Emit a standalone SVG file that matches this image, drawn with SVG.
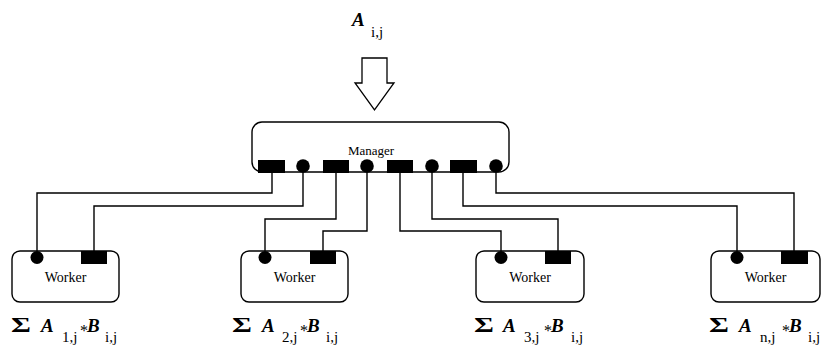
<svg xmlns="http://www.w3.org/2000/svg" width="827" height="354" viewBox="0 0 827 354">
<style>
.box{fill:#fff;stroke:#000;stroke-width:1.4}
.port{fill:#000}
.wire{fill:none;stroke:#000;stroke-width:1.4}
text{font-family:'Liberation Serif','DejaVu Serif',serif;fill:#000}
.sig{font-size:21px;font-weight:bold}
.var{font-size:19px;font-weight:bold;font-style:italic}
.sub{font-size:15px}
.ast{font-size:16px}
.wk{font-size:14px;text-anchor:middle}
</style>
<rect width="827" height="354" fill="#fff"/>
<g id="input">
<text y="26"><tspan class="var" x="352">A</tspan><tspan class="sub" x="371" y="37">i,j</tspan></text>
<polygon points="362,58 387,58 387,83 394,83 374.5,110 355,83 362,83" fill="#fff" stroke="#000" stroke-width="1.3"/>
</g>
<g id="connectors">
<path class="wire" d="M272,172 V193 H37 V251"/>
<path class="wire" d="M303,172 V206 H94 V251"/>
<path class="wire" d="M336,172 V219 H265 V251"/>
<path class="wire" d="M367,172 V231 H323 V251"/>
<path class="wire" d="M400,172 V231 H501 V251"/>
<path class="wire" d="M432,172 V219 H558 V251"/>
<path class="wire" d="M463,172 V206 H737 V251"/>
<path class="wire" d="M496,172 V193 H794 V251"/>
</g>
<g id="manager">
<rect class="box" x="252" y="122" width="257" height="50" rx="10"/>
<text x="371" y="155" font-size="13" text-anchor="middle">Manager</text>
<rect class="port" x="258" y="160" width="27" height="13"/>
<circle class="port" cx="303" cy="166" r="6.8"/>
<rect class="port" x="323" y="160" width="26" height="13"/>
<circle class="port" cx="367" cy="166" r="6.8"/>
<rect class="port" x="387" y="160" width="26" height="13"/>
<circle class="port" cx="432" cy="166" r="6.8"/>
<rect class="port" x="450" y="160" width="27" height="13"/>
<circle class="port" cx="496" cy="166" r="6.8"/>
</g>
<g id="worker1">
<rect class="box" x="12" y="251" width="107" height="51" rx="8"/>
<circle class="port" cx="37" cy="257.5" r="6.5"/>
<rect class="port" x="81" y="251" width="26" height="13"/>
<text class="wk" x="65.5" y="282">Worker</text>
</g>
<g id="worker2">
<rect class="box" x="241" y="251" width="107" height="51" rx="8"/>
<circle class="port" cx="265" cy="257.5" r="6.5"/>
<rect class="port" x="310" y="251" width="26" height="13"/>
<text class="wk" x="294.5" y="282">Worker</text>
</g>
<g id="worker3">
<rect class="box" x="476" y="251" width="108" height="51" rx="8"/>
<circle class="port" cx="501" cy="257.5" r="6.5"/>
<rect class="port" x="545" y="251" width="26" height="13"/>
<text class="wk" x="530" y="282">Worker</text>
</g>
<g id="worker4">
<rect class="box" x="711" y="251" width="109" height="51" rx="8"/>
<circle class="port" cx="737" cy="257.5" r="6.5"/>
<rect class="port" x="781" y="251" width="27" height="13"/>
<text class="wk" x="765.5" y="282">Worker</text>
</g>
<g id="sums">
<text class="sig" transform="translate(11,332) scale(1.45,1)">Σ</text>
<text y="332"><tspan class="var" x="41">A</tspan><tspan class="sub" x="62" y="342">1,j</tspan><tspan class="ast" x="80" y="336">*</tspan><tspan class="var" x="87" y="332">B</tspan><tspan class="sub" x="105" y="342">i,j</tspan></text>
<text class="sig" transform="translate(232,332) scale(1.45,1)">Σ</text>
<text y="332"><tspan class="var" x="262">A</tspan><tspan class="sub" x="282" y="342">2,j</tspan><tspan class="ast" x="300" y="336">*</tspan><tspan class="var" x="307" y="332">B</tspan><tspan class="sub" x="326" y="342">i,j</tspan></text>
<text class="sig" transform="translate(474,332) scale(1.45,1)">Σ</text>
<text y="332"><tspan class="var" x="503">A</tspan><tspan class="sub" x="524" y="342">3,j</tspan><tspan class="ast" x="544" y="336">*</tspan><tspan class="var" x="551" y="332">B</tspan><tspan class="sub" x="571" y="342">i,j</tspan></text>
<text class="sig" transform="translate(709,332) scale(1.45,1)">Σ</text>
<text y="332"><tspan class="var" x="739">A</tspan><tspan class="sub" x="760" y="342">n,j</tspan><tspan class="ast" x="782" y="336">*</tspan><tspan class="var" x="789" y="332">B</tspan><tspan class="sub" x="808" y="342">i,j</tspan></text>
</g>
</svg>
